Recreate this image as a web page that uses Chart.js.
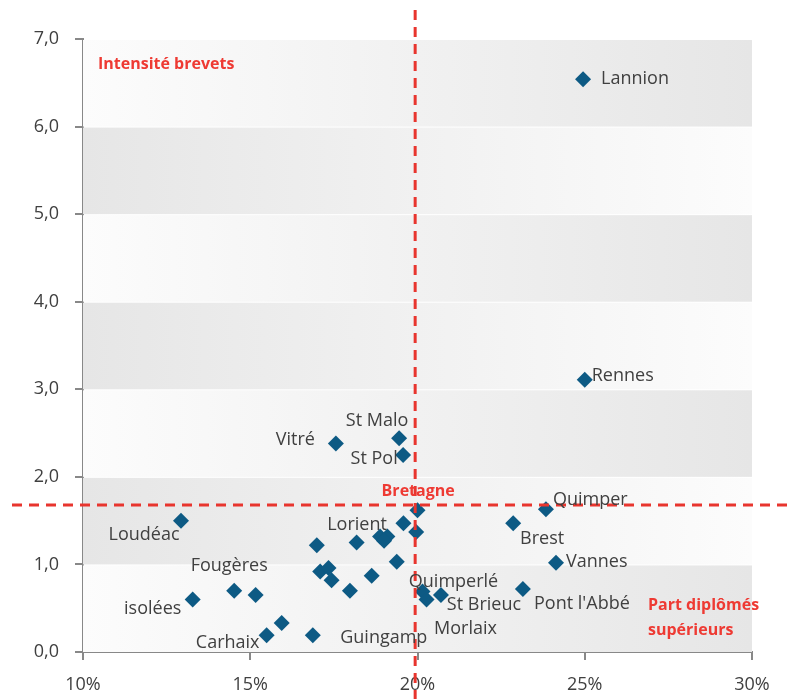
<!DOCTYPE html>
<html lang="fr">
<head>
<meta charset="UTF-8">
<script src="https://cdn.jsdelivr.net/npm/chart.js@4.4.1/dist/chart.umd.min.js"></script>
<title>Intensité brevets</title>
<style>
  html, body { margin: 0; padding: 0; background: #fff; }
  #wrap { width: 790px; height: 699px; }
</style>
</head>
<body>
<div id="wrap"><canvas id="myChart" width="790" height="699"></canvas></div>
<script>
// data
const communes = ['Lannion', 'Rennes', 'Vitré', 'St Malo', 'St Pol', 'Loudéac', '', '', '',
  'Lorient', '', '', '', '', '', '', '', '', '', 'Guingamp', '',
  'Quimperlé', 'Morlaix', 'St Brieuc', 'isolées', 'Fougères', '', '', 'Carhaix',
  'Quimper', 'Brest', 'Vannes', "Pont l'Abbé"];
const partDiplomes = [24.95, 25.0, 17.56, 19.45, 19.57, 12.93, 20.0, 19.58, 19.96,
  18.88, 19.1, 19.0, 16.99, 18.18, 19.38, 18.63, 17.09, 17.34, 17.43, 16.87, 17.98,
  20.15, 20.27, 20.7, 13.28, 14.52, 15.16, 15.94, 15.49,
  23.84, 22.86, 24.14, 23.15];
const intensiteBrevets = [6.54, 3.11, 2.38, 2.44, 2.25, 1.50, 1.62, 1.47, 1.37,
  1.32, 1.32, 1.27, 1.22, 1.25, 1.03, 0.87, 0.92, 0.96, 0.82, 0.19, 0.70,
  0.69, 0.60, 0.65, 0.60, 0.70, 0.65, 0.33, 0.19,
  1.63, 1.47, 1.02, 0.72];
const bretagne = { x: 19.93, y: 1.68 };
const xTicks = [10, 15, 20, 25, 30];
const yTicks = [0, 1, 2, 3, 4, 5, 6, 7];

// label placement (pixels relative to the point)
const labelPos = {
  'Lannion': [18, 0, 'left'], 'Rennes': [7, -4, 'left'], 'Vitré': [-21, -4, 'right'],
  'St Malo': [-22, -17, 'center'], 'St Pol': [-29, 4, 'center'], 'Loudéac': [-37, 14, 'center'],
  'Lorient': [-23, -12, 'center'], 'Guingamp': [71, 3, 'center'], 'Quimperlé': [31, -10, 'center'],
  'Morlaix': [39, 29, 'center'], 'St Brieuc': [43, 10, 'center'], 'isolées': [-40, 9, 'center'],
  'Fougères': [-5, -25, 'center'], 'Carhaix': [-39, 8, 'center'], 'Quimper': [7, -9, 'left'],
  'Brest': [29, 16, 'center'], 'Vannes': [10, -1, 'left'], "Pont l'Abbé": [59, 15, 'center']
};

const points = partDiplomes.map((x, i) => ({ x: x, y: intensiteBrevets[i] }));

const bands = {
  id: 'bands',
  beforeDatasetsDraw(chart) {
    const { ctx, chartArea: a, scales: { y } } = chart;
    ctx.save();
    for (let i = 0; i < 7; i++) {
      const top = y.getPixelForValue(i + 1), bot = y.getPixelForValue(i);
      const g = ctx.createLinearGradient(a.left, 0, a.right, 0);
      if (i % 2 === 0) { g.addColorStop(0, '#fcfcfc'); g.addColorStop(1, '#e6e6e6'); }
      else { g.addColorStop(0, '#e6e6e6'); g.addColorStop(1, '#fcfcfc'); }
      ctx.fillStyle = g;
      ctx.fillRect(a.left, top + 1, a.right - a.left, bot - top - 1);
    }
    ctx.restore();
  },
  afterDatasetsDraw(chart) {
    const { ctx, scales: { x, y } } = chart;
    ctx.save();
    // Bretagne reference lines
    ctx.strokeStyle = '#e8352e';
    ctx.lineWidth = 3;
    ctx.setLineDash([10, 7]);
    const bx = x.getPixelForValue(bretagne.x), by = y.getPixelForValue(bretagne.y);
    ctx.beginPath(); ctx.moveTo(12, by); ctx.lineTo(chart.width, by); ctx.stroke();
    ctx.beginPath(); ctx.moveTo(bx, 10); ctx.lineTo(bx, chart.height); ctx.stroke();
    ctx.setLineDash([]);
    // point labels
    ctx.font = '18px "Open Sans"';
    ctx.fillStyle = '#404040';
    ctx.textBaseline = 'middle';
    communes.forEach((name, i) => {
      if (!name) return;
      const p = labelPos[name];
      ctx.textAlign = p[2];
      ctx.fillText(name, x.getPixelForValue(partDiplomes[i]) + p[0], y.getPixelForValue(intensiteBrevets[i]) + p[1]);
    });
    // red titles
    ctx.font = 'bold 16px "Open Sans"';
    ctx.fillStyle = '#ee3a33';
    ctx.textAlign = 'left';
    ctx.fillText('Intensité brevets', 98, 64);
    ctx.fillText('Part diplômés', 648, 605);
    ctx.fillText('supérieurs', 648, 630);
    ctx.textAlign = 'center';
    ctx.fillText('Bretagne', bx + 3, by - 13);
    ctx.restore();
  }
};

new Chart(document.getElementById('myChart'), {
  type: 'scatter',
  data: {
    datasets: [{
      data: points,
      pointStyle: 'rectRot',
      pointRadius: 8,
      backgroundColor: '#0d5a84',
      borderColor: '#0d5a84',
      borderWidth: 0
    }]
  },
  plugins: [bands],
  options: {
    responsive: false,
    animation: false,
    layout: { padding: { top: 39, right: 38, left: 0, bottom: 0 } },
    scales: {
      x: {
        type: 'linear', min: 10, max: 30,
        afterBuildTicks: s => { s.ticks = xTicks.map(v => ({ value: v })); },
        afterFit: s => { s.height = 47; },
        grid: { drawOnChartArea: false, color: '#888', tickLength: 8, lineWidth: 2 },
        border: { color: '#888', width: 2 },
        ticks: { color: '#404040', font: { family: 'Open Sans', size: 18 }, padding: 14, callback: v => v + '%' }
      },
      y: {
        type: 'linear', min: 0, max: 7,
        afterBuildTicks: s => { s.ticks = yTicks.map(v => ({ value: v })); },
        afterFit: s => { s.width = 83; },
        grid: { drawOnChartArea: false, color: '#888', tickLength: 8, lineWidth: 2 },
        border: { color: '#888', width: 2 },
        ticks: { color: '#404040', font: { family: 'Open Sans', size: 18 }, padding: 16, callback: v => v.toFixed(1).replace('.', ',') }
      }
    },
    plugins: { legend: { display: false }, tooltip: { enabled: false } }
  }
});
</script>
</body>
</html>
